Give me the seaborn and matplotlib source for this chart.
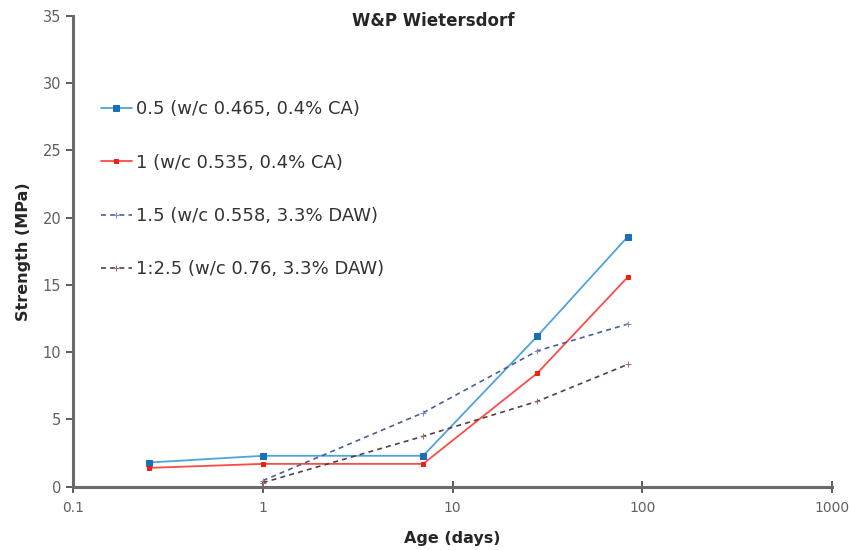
import numpy as np
import pandas as pd
import seaborn as sns
import matplotlib
matplotlib.use("Agg")
import matplotlib.pyplot as plt

# data
age_a = [0.25, 1, 7, 28, 84]
s05 = [1.8, 2.3, 2.3, 11.2, 18.6]
s1 = [1.4, 1.7, 1.7, 8.45, 15.6]
age_b = [1, 7, 28, 84]
s15 = [0.45, 5.5, 10.1, 12.1]
s25 = [0.3, 3.75, 6.35, 9.1]

labels = ["0.5 (w/c 0.465, 0.4% CA)", "1 (w/c 0.535, 0.4% CA)",
          "1.5 (w/c 0.558, 3.3% DAW)", "1:2.5 (w/c 0.76, 3.3% DAW)"]

sns.set_style("white")
plt.rcParams["font.family"] = ["DejaVu Sans"]

fig, ax = plt.subplots(figsize=(8.49, 5.5), dpi=100)
fig.subplots_adjust(left=0.086, right=0.98, top=0.971, bottom=0.115)

styles = [
    dict(color="#4fa3dc", marker="s", markersize=4, markerfacecolor="#1a70b8",
         markeredgecolor="#1a70b8", linestyle="-", linewidth=1.3),
    dict(color="#ff4a4a", marker="s", markersize=3, markerfacecolor="#ee2010",
         markeredgecolor="#ee2010", linestyle="-", linewidth=1.3),
    dict(color="#4c5e98", marker="+", markersize=4, markeredgecolor="#8090c0",
         linestyle=(0, (3, 2.5)), linewidth=1.2),
    dict(color="#554040", marker="+", markersize=4, markeredgecolor="#a07070",
         linestyle=(0, (3, 2.5)), linewidth=1.2),
]
series = [(age_a, s05), (age_a, s1), (age_b, s15), (age_b, s25)]

for (x, y), lab, st in zip(series, labels, styles):
    df = pd.DataFrame({"Age": x, "Strength": y})
    sns.lineplot(data=df, x="Age", y="Strength", ax=ax, label=lab, **st)

ax.set_xscale("log")
ax.set_xlim(0.1, 1000)
ax.set_ylim(0, 35)
ax.set_yticks(np.arange(0, 36, 5))
ax.set_xticks([0.1, 1, 10, 100, 1000])
ax.set_xticklabels(["0.1", "1", "10", "100", "1000"])
ax.minorticks_off()

for sp in ["top", "right"]:
    ax.spines[sp].set_visible(False)
for sp in ["left", "bottom"]:
    ax.spines[sp].set_color("#6a6a6a")
    ax.spines[sp].set_linewidth(2.2)

ax.tick_params(axis="y", direction="out", length=5, width=1.2, color="#404040",
               labelsize=10.5, labelcolor="#606060", left=True)
ax.tick_params(axis="x", direction="inout", length=8, width=1.2, color="#404040",
               labelsize=10, labelcolor="#606060", bottom=True, pad=6)

ax.set_xlabel("Age (days)", fontsize=11.5, fontweight="bold", labelpad=12)
ax.set_ylabel("Strength (MPa)", fontsize=11.5, fontweight="bold", labelpad=8)
ax.text(0.475, 0.99, "W&P Wietersdorf", transform=ax.transAxes, ha="center",
        va="center", fontsize=12, fontweight="bold")

ax.legend(loc="upper left", bbox_to_anchor=(0.015, 0.855), frameon=False,
          fontsize=13, labelspacing=1.95, handlelength=1.75, handletextpad=0.2,
          labelcolor="#333333")
ax.grid(False)

fig.savefig("out.png", dpi=100)
